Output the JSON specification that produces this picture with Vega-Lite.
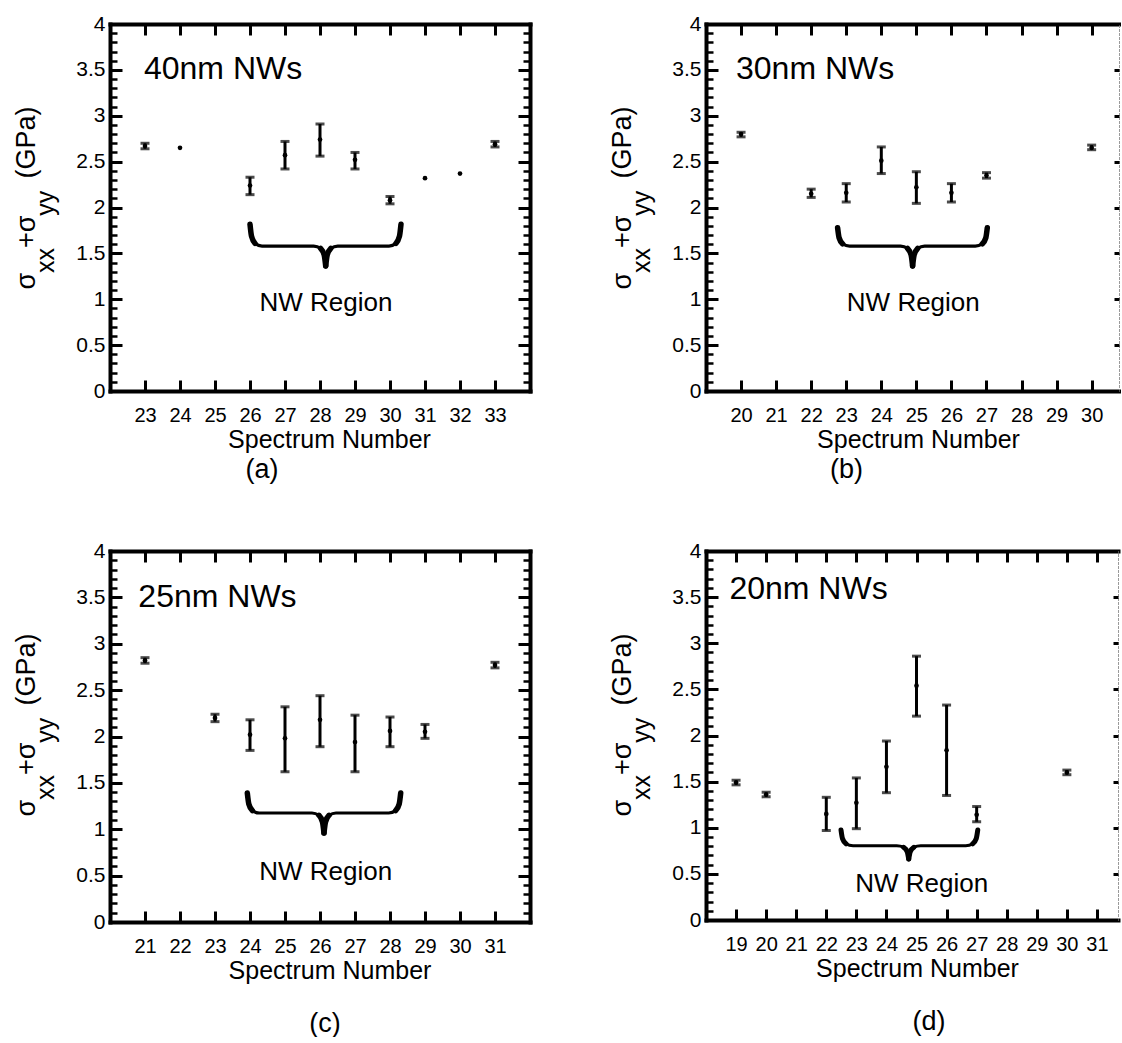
{
  "$schema": "https://vega.github.io/schema/vega-lite/v6.json",
  "background": "white",
  "padding": {"left": 12, "top": 13, "right": 0, "bottom": 0},
  "columns": 2,
  "spacing": {"row": 156, "column": 176},
  "bounds": "flush",
  "align": "all",
  "datasets": {
    "pa": [
      {"n": 23, "y": 2.67, "lo": 2.64, "hi": 2.70},
      {"n": 24, "y": 2.65, "lo": null, "hi": null},
      {"n": 26, "y": 2.24, "lo": 2.14, "hi": 2.33},
      {"n": 27, "y": 2.57, "lo": 2.42, "hi": 2.72},
      {"n": 28, "y": 2.74, "lo": 2.56, "hi": 2.91},
      {"n": 29, "y": 2.52, "lo": 2.42, "hi": 2.60},
      {"n": 30, "y": 2.08, "lo": 2.04, "hi": 2.12},
      {"n": 31, "y": 2.32, "lo": null, "hi": null},
      {"n": 32, "y": 2.37, "lo": null, "hi": null},
      {"n": 33, "y": 2.69, "lo": 2.66, "hi": 2.72}
    ],
    "pb": [
      {"n": 20, "y": 2.80, "lo": 2.77, "hi": 2.82},
      {"n": 22, "y": 2.15, "lo": 2.11, "hi": 2.20},
      {"n": 23, "y": 2.16, "lo": 2.06, "hi": 2.26},
      {"n": 24, "y": 2.51, "lo": 2.37, "hi": 2.66},
      {"n": 25, "y": 2.22, "lo": 2.045, "hi": 2.39},
      {"n": 26, "y": 2.16, "lo": 2.06, "hi": 2.26},
      {"n": 27, "y": 2.35, "lo": 2.32, "hi": 2.38},
      {"n": 30, "y": 2.65, "lo": 2.63, "hi": 2.68}
    ],
    "pc": [
      {"n": 21, "y": 2.82, "lo": 2.79, "hi": 2.85},
      {"n": 23, "y": 2.20, "lo": 2.16, "hi": 2.24},
      {"n": 24, "y": 2.02, "lo": 1.85, "hi": 2.18},
      {"n": 25, "y": 1.98, "lo": 1.62, "hi": 2.32},
      {"n": 26, "y": 2.18, "lo": 1.89, "hi": 2.44},
      {"n": 27, "y": 1.94, "lo": 1.62, "hi": 2.23},
      {"n": 28, "y": 2.06, "lo": 1.89, "hi": 2.21},
      {"n": 29, "y": 2.05, "lo": 1.98, "hi": 2.13},
      {"n": 31, "y": 2.77, "lo": 2.74, "hi": 2.80}
    ],
    "pd": [
      {"n": 19, "y": 1.49, "lo": 1.465, "hi": 1.515},
      {"n": 20, "y": 1.36, "lo": 1.335, "hi": 1.385},
      {"n": 22, "y": 1.15, "lo": 0.97, "hi": 1.33},
      {"n": 23, "y": 1.27, "lo": 0.99, "hi": 1.54},
      {"n": 24, "y": 1.66, "lo": 1.38, "hi": 1.94},
      {"n": 25, "y": 2.54, "lo": 2.21, "hi": 2.86},
      {"n": 26, "y": 1.84, "lo": 1.35, "hi": 2.33},
      {"n": 27, "y": 1.14, "lo": 1.065, "hi": 1.23},
      {"n": 30, "y": 1.60, "lo": 1.575, "hi": 1.625}
    ],
    "ba": [
      {"p": "L", "o": 1, "x": 26.000, "y": 1.817}, {"p": "L", "o": 2, "x": 26.043, "y": 1.687},
      {"p": "L", "o": 3, "x": 26.143, "y": 1.609}, {"p": "L", "o": 4, "x": 26.343, "y": 1.580},
      {"p": "L", "o": 5, "x": 27.820, "y": 1.580}, {"p": "L", "o": 6, "x": 28.020, "y": 1.554},
      {"p": "L", "o": 7, "x": 28.120, "y": 1.482}, {"p": "L", "o": 8, "x": 28.163, "y": 1.362},
      {"p": "R", "o": 1, "x": 28.163, "y": 1.362}, {"p": "R", "o": 2, "x": 28.206, "y": 1.482},
      {"p": "R", "o": 3, "x": 28.306, "y": 1.554}, {"p": "R", "o": 4, "x": 28.506, "y": 1.580},
      {"p": "R", "o": 5, "x": 29.971, "y": 1.580}, {"p": "R", "o": 6, "x": 30.171, "y": 1.609},
      {"p": "R", "o": 7, "x": 30.271, "y": 1.687}, {"p": "R", "o": 8, "x": 30.314, "y": 1.817}
    ],
    "bb": [
      {"p": "L", "o": 1, "x": 22.754, "y": 1.779}, {"p": "L", "o": 2, "x": 22.797, "y": 1.669},
      {"p": "L", "o": 3, "x": 22.897, "y": 1.604}, {"p": "L", "o": 4, "x": 23.096, "y": 1.580},
      {"p": "L", "o": 5, "x": 24.551, "y": 1.580}, {"p": "L", "o": 6, "x": 24.751, "y": 1.554},
      {"p": "L", "o": 7, "x": 24.851, "y": 1.481}, {"p": "L", "o": 8, "x": 24.893, "y": 1.362},
      {"p": "R", "o": 1, "x": 24.893, "y": 1.362}, {"p": "R", "o": 2, "x": 24.936, "y": 1.481},
      {"p": "R", "o": 3, "x": 25.035, "y": 1.554}, {"p": "R", "o": 4, "x": 25.235, "y": 1.580},
      {"p": "R", "o": 5, "x": 26.681, "y": 1.580}, {"p": "R", "o": 6, "x": 26.881, "y": 1.604},
      {"p": "R", "o": 7, "x": 26.981, "y": 1.669}, {"p": "R", "o": 8, "x": 27.023, "y": 1.779}
    ],
    "bc": [
      {"p": "L", "o": 1, "x": 23.923, "y": 1.391}, {"p": "L", "o": 2, "x": 23.966, "y": 1.272},
      {"p": "L", "o": 3, "x": 24.066, "y": 1.201}, {"p": "L", "o": 4, "x": 24.266, "y": 1.175},
      {"p": "L", "o": 5, "x": 25.771, "y": 1.175}, {"p": "L", "o": 6, "x": 25.971, "y": 1.150},
      {"p": "L", "o": 7, "x": 26.071, "y": 1.079}, {"p": "L", "o": 8, "x": 26.114, "y": 0.960},
      {"p": "R", "o": 1, "x": 26.114, "y": 0.960}, {"p": "R", "o": 2, "x": 26.157, "y": 1.079},
      {"p": "R", "o": 3, "x": 26.257, "y": 1.150}, {"p": "R", "o": 4, "x": 26.457, "y": 1.175},
      {"p": "R", "o": 5, "x": 27.963, "y": 1.175}, {"p": "R", "o": 6, "x": 28.163, "y": 1.201},
      {"p": "R", "o": 7, "x": 28.263, "y": 1.272}, {"p": "R", "o": 8, "x": 28.306, "y": 1.391}
    ],
    "bd": [
      {"p": "L", "o": 1, "x": 22.490, "y": 0.975}, {"p": "L", "o": 2, "x": 22.539, "y": 0.882},
      {"p": "L", "o": 3, "x": 22.656, "y": 0.826}, {"p": "L", "o": 4, "x": 22.889, "y": 0.805},
      {"p": "L", "o": 5, "x": 24.342, "y": 0.805}, {"p": "L", "o": 6, "x": 24.575, "y": 0.788},
      {"p": "L", "o": 7, "x": 24.691, "y": 0.740}, {"p": "L", "o": 8, "x": 24.741, "y": 0.661},
      {"p": "R", "o": 1, "x": 24.741, "y": 0.661}, {"p": "R", "o": 2, "x": 24.791, "y": 0.740},
      {"p": "R", "o": 3, "x": 24.907, "y": 0.788}, {"p": "R", "o": 4, "x": 25.140, "y": 0.805},
      {"p": "R", "o": 5, "x": 26.637, "y": 0.805}, {"p": "R", "o": 6, "x": 26.870, "y": 0.826},
      {"p": "R", "o": 7, "x": 26.986, "y": 0.882}, {"p": "R", "o": 8, "x": 27.036, "y": 0.975}
    ]
  },
  "concat": [
    {
      "width": 420, "height": 367,
      "title": {"text": "(a)", "orient": "bottom", "anchor": "middle", "frame": "group", "fontSize": 27, "fontWeight": "normal", "font": "Liberation Sans", "color": "black", "dx": -58, "offset": 5},
      "resolve": {"scale": {"x": "independent", "y": "independent"}, "axis": {"x": "independent", "y": "independent"}},
      "layer": [
        {"data": {"name": "pa"}, "mark": {"type": "rule", "color": "black", "strokeWidth": 3},
         "encoding": {
           "x": {"field": "n", "type": "quantitative", "scale": {"domain": [22, 34], "nice": false, "zero": false},
                 "axis": {"orient": "bottom", "values": [23,24,25,26,27,28,29,30,31,32,33], "format": "d", "domain": true, "domainWidth": 4, "domainColor": "black", "ticks": false, "tickSize": 0, "labels": true, "labelFontSize": 20, "labelPadding": 14, "title": "Spectrum Number", "titleFontSize": 25, "titleX": 219, "titleY": 36, "titleAlign": "center", "titleBaseline": "top"}},
           "y": {"field": "lo", "type": "quantitative", "scale": {"domain": [0, 4], "nice": false, "zero": false},
                 "axis": {"orient": "left", "values": [0,0.5,1,1.5,2,2.5,3,3.5,4], "format": "~g", "domain": true, "domainWidth": 4, "domainColor": "black", "ticks": false, "tickSize": 0, "labelFontSize": 21, "labelPadding": 5, "title": "(GPa)", "titleFontSize": 27, "titleAngle": 270, "titleAlign": "left", "titleBaseline": "alphabetic", "titleX": -76, "titleY": 154}},
           "y2": {"field": "hi"}}},
        {"data": {"name": "pa"}, "mark": {"type": "tick", "orient": "horizontal", "color": "black", "size": 9, "thickness": 3},
         "encoding": {
           "x": {"field": "n", "type": "quantitative", "scale": {"domain": [22, 34], "nice": false, "zero": false},
                 "axis": {"orient": "bottom", "offset": -11, "values": [23,24,25,26,27,28,29,30,31,32,33], "domain": false, "ticks": true, "tickSize": 11, "tickWidth": 3, "tickColor": "black", "labels": false, "title": null}},
           "y": {"field": "lo", "type": "quantitative", "scale": {"domain": [0, 4], "nice": false, "zero": false},
                 "axis": {"orient": "left", "offset": -12, "values": [0,0.5,1,1.5,2,2.5,3,3.5,4], "domain": false, "ticks": true, "tickSize": 12, "tickWidth": 3, "tickColor": "black", "labels": false, "title": "σ", "titleFontSize": 27, "titleAngle": 270, "titleAlign": "left", "titleBaseline": "alphabetic", "titleX": -88, "titleY": 265}}}},
        {"data": {"name": "pa"}, "mark": {"type": "tick", "orient": "horizontal", "color": "black", "size": 9, "thickness": 3},
         "encoding": {
           "x": {"field": "n", "type": "quantitative", "scale": {"domain": [22, 34], "nice": false, "zero": false},
                 "axis": {"orient": "top", "domain": true, "domainWidth": 4, "domainColor": "black", "ticks": false, "tickSize": 0, "labels": false, "title": null}},
           "y": {"field": "hi", "type": "quantitative", "scale": {"domain": [0, 4], "nice": false, "zero": false},
                 "axis": {"orient": "left", "offset": -7, "values": [0,0.1,0.2,0.3,0.4,0.5,0.6,0.7,0.8,0.9,1,1.1,1.2,1.3,1.4,1.5,1.6,1.7,1.8,1.9,2,2.1,2.2,2.3,2.4,2.5,2.6,2.7,2.8,2.9,3,3.1,3.2,3.3,3.4,3.5,3.6,3.7,3.8,3.9,4], "domain": false, "ticks": true, "tickSize": 7, "tickWidth": 2.5, "tickColor": "black", "labels": false, "title": "xx", "titleFontSize": 25, "titleAngle": 270, "titleAlign": "left", "titleBaseline": "alphabetic", "titleX": -64, "titleY": 248.5}}}},
        {"data": {"name": "pa"}, "mark": {"type": "circle", "color": "black", "opacity": 1, "size": 22},
         "encoding": {
           "x": {"field": "n", "type": "quantitative", "scale": {"domain": [22, 34], "nice": false, "zero": false},
                 "axis": {"orient": "top", "offset": -11, "values": [23,24,25,26,27,28,29,30,31,32,33], "domain": false, "ticks": true, "tickSize": 11, "tickWidth": 3, "tickColor": "black", "labels": false, "title": null}},
           "y": {"field": "y", "type": "quantitative", "scale": {"domain": [0, 4], "nice": false, "zero": false},
                 "axis": {"orient": "right", "domain": true, "domainWidth": 4, "domainColor": "black", "ticks": false, "tickSize": 0, "labels": false, "title": "+σ", "titleFontSize": 27, "titleAngle": 270, "titleAlign": "left", "titleBaseline": "alphabetic", "titleX": -496, "titleY": 223.5}}}},
        {"data": {"values": [{"x": 22.97, "y": 3.40, "t": "40nm NWs"}]}, "mark": {"type": "text", "align": "left", "baseline": "alphabetic", "fontSize": 32, "font": "Liberation Sans", "color": "black"},
         "encoding": {
           "x": {"field": "x", "type": "quantitative", "scale": {"domain": [22, 34], "nice": false, "zero": false}, "axis": null},
           "y": {"field": "y", "type": "quantitative", "scale": {"domain": [0, 4], "nice": false, "zero": false},
                 "axis": {"orient": "right", "offset": -12, "values": [0,0.5,1,1.5,2,2.5,3,3.5,4], "domain": false, "ticks": true, "tickSize": 12, "tickWidth": 3, "tickColor": "black", "labels": false, "title": "yy", "titleFontSize": 25, "titleAngle": 270, "titleAlign": "left", "titleBaseline": "alphabetic", "titleX": -465, "titleY": 191.3}},
           "text": {"field": "t"}}},
        {"data": {"values": [{"x": 28.17, "y": 0.872, "t": "NW Region"}]}, "mark": {"type": "text", "align": "center", "baseline": "alphabetic", "fontSize": 26, "font": "Liberation Sans", "color": "black"},
         "encoding": {
           "x": {"field": "x", "type": "quantitative", "scale": {"domain": [22, 34], "nice": false, "zero": false}, "axis": null},
           "y": {"field": "y", "type": "quantitative", "scale": {"domain": [0, 4], "nice": false, "zero": false},
                 "axis": {"orient": "right", "offset": -7, "values": [0,0.1,0.2,0.3,0.4,0.5,0.6,0.7,0.8,0.9,1,1.1,1.2,1.3,1.4,1.5,1.6,1.7,1.8,1.9,2,2.1,2.2,2.3,2.4,2.5,2.6,2.7,2.8,2.9,3,3.1,3.2,3.3,3.4,3.5,3.6,3.7,3.8,3.9,4], "domain": false, "ticks": true, "tickSize": 7, "tickWidth": 2.5, "tickColor": "black", "labels": false, "title": null}},
           "text": {"field": "t"}}},
        {"data": {"name": "ba"}, "mark": {"type": "line", "color": "black", "strokeWidth": 3.2, "interpolate": "monotone"},
         "encoding": {
           "x": {"field": "x", "type": "quantitative", "scale": {"domain": [22, 34], "nice": false, "zero": false}, "axis": null},
           "y": {"field": "y", "type": "quantitative", "scale": {"domain": [0, 4], "nice": false, "zero": false}, "axis": null},
           "detail": {"field": "p"}, "order": {"field": "o"}}},
        {"data": {"name": "ba"}, "transform": [{"filter": "datum.o <= 3"}], "mark": {"type": "line", "color": "black", "strokeWidth": 5.5, "strokeCap": "round", "interpolate": "monotone"},
         "encoding": {
           "x": {"field": "x", "type": "quantitative", "scale": {"domain": [22, 34], "nice": false, "zero": false}, "axis": null},
           "y": {"field": "y", "type": "quantitative", "scale": {"domain": [0, 4], "nice": false, "zero": false}, "axis": null},
           "detail": {"field": "p"}, "order": {"field": "o"}}},
        {"data": {"name": "ba"}, "transform": [{"filter": "datum.o >= 6"}], "mark": {"type": "line", "color": "black", "strokeWidth": 5.5, "strokeCap": "round", "interpolate": "monotone"},
         "encoding": {
           "x": {"field": "x", "type": "quantitative", "scale": {"domain": [22, 34], "nice": false, "zero": false}, "axis": null},
           "y": {"field": "y", "type": "quantitative", "scale": {"domain": [0, 4], "nice": false, "zero": false}, "axis": null},
           "detail": {"field": "p"}, "order": {"field": "o"}}}
      ]
    },
    {
      "width": 413, "height": 367,
      "title": {"text": "(b)", "orient": "bottom", "anchor": "middle", "frame": "group", "fontSize": 27, "fontWeight": "normal", "font": "Liberation Sans", "color": "black", "dx": -66, "offset": 5},
      "resolve": {"scale": {"x": "independent", "y": "independent"}, "axis": {"x": "independent", "y": "independent"}},
      "layer": [
        {"data": {"name": "pb"}, "mark": {"type": "rule", "color": "black", "strokeWidth": 3},
         "encoding": {
           "x": {"field": "n", "type": "quantitative", "scale": {"domain": [19, 30.78], "nice": false, "zero": false},
                 "axis": {"orient": "bottom", "values": [20,21,22,23,24,25,26,27,28,29,30], "format": "d", "domain": true, "domainWidth": 4, "domainColor": "black", "ticks": false, "tickSize": 0, "labels": true, "labelFontSize": 20, "labelPadding": 14, "title": "Spectrum Number", "titleFontSize": 25, "titleX": 212, "titleY": 36, "titleAlign": "center", "titleBaseline": "top"}},
           "y": {"field": "lo", "type": "quantitative", "scale": {"domain": [0, 4], "nice": false, "zero": false},
                 "axis": {"orient": "left", "values": [0,0.5,1,1.5,2,2.5,3,3.5,4], "format": "~g", "domain": true, "domainWidth": 4, "domainColor": "black", "ticks": false, "tickSize": 0, "labelFontSize": 21, "labelPadding": 5, "title": "(GPa)", "titleFontSize": 27, "titleAngle": 270, "titleAlign": "left", "titleBaseline": "alphabetic", "titleX": -76, "titleY": 154}},
           "y2": {"field": "hi"}}},
        {"data": {"name": "pb"}, "mark": {"type": "tick", "orient": "horizontal", "color": "black", "size": 9, "thickness": 3},
         "encoding": {
           "x": {"field": "n", "type": "quantitative", "scale": {"domain": [19, 30.78], "nice": false, "zero": false},
                 "axis": {"orient": "bottom", "offset": -11, "values": [20,21,22,23,24,25,26,27,28,29,30], "domain": false, "ticks": true, "tickSize": 11, "tickWidth": 3, "tickColor": "black", "labels": false, "title": null}},
           "y": {"field": "lo", "type": "quantitative", "scale": {"domain": [0, 4], "nice": false, "zero": false},
                 "axis": {"orient": "left", "offset": -12, "values": [0,0.5,1,1.5,2,2.5,3,3.5,4], "domain": false, "ticks": true, "tickSize": 12, "tickWidth": 3, "tickColor": "black", "labels": false, "title": "σ", "titleFontSize": 27, "titleAngle": 270, "titleAlign": "left", "titleBaseline": "alphabetic", "titleX": -88, "titleY": 265}}}},
        {"data": {"name": "pb"}, "mark": {"type": "tick", "orient": "horizontal", "color": "black", "size": 9, "thickness": 3},
         "encoding": {
           "x": {"field": "n", "type": "quantitative", "scale": {"domain": [19, 30.78], "nice": false, "zero": false},
                 "axis": {"orient": "top", "domain": true, "domainWidth": 4, "domainColor": "black", "ticks": false, "tickSize": 0, "labels": false, "title": null}},
           "y": {"field": "hi", "type": "quantitative", "scale": {"domain": [0, 4], "nice": false, "zero": false},
                 "axis": {"orient": "left", "offset": -7, "values": [0,0.1,0.2,0.3,0.4,0.5,0.6,0.7,0.8,0.9,1,1.1,1.2,1.3,1.4,1.5,1.6,1.7,1.8,1.9,2,2.1,2.2,2.3,2.4,2.5,2.6,2.7,2.8,2.9,3,3.1,3.2,3.3,3.4,3.5,3.6,3.7,3.8,3.9,4], "domain": false, "ticks": true, "tickSize": 7, "tickWidth": 2.5, "tickColor": "black", "labels": false, "title": "xx", "titleFontSize": 25, "titleAngle": 270, "titleAlign": "left", "titleBaseline": "alphabetic", "titleX": -64, "titleY": 248.5}}}},
        {"data": {"name": "pb"}, "mark": {"type": "circle", "color": "black", "opacity": 1, "size": 22},
         "encoding": {
           "x": {"field": "n", "type": "quantitative", "scale": {"domain": [19, 30.78], "nice": false, "zero": false},
                 "axis": {"orient": "top", "offset": -11, "values": [20,21,22,23,24,25,26,27,28,29,30], "domain": false, "ticks": true, "tickSize": 11, "tickWidth": 3, "tickColor": "black", "labels": false, "title": null}},
           "y": {"field": "y", "type": "quantitative", "scale": {"domain": [0, 4], "nice": false, "zero": false},
                 "axis": {"orient": "right", "domain": true, "domainWidth": 1, "domainColor": "#9a9a9a", "domainDash": [2, 2], "ticks": false, "tickSize": 0, "labels": false, "title": "+σ", "titleFontSize": 27, "titleAngle": 270, "titleAlign": "left", "titleBaseline": "alphabetic", "titleX": -489, "titleY": 223.5}}}},
        {"data": {"values": [{"x": 19.856, "y": 3.40, "t": "30nm NWs"}]}, "mark": {"type": "text", "align": "left", "baseline": "alphabetic", "fontSize": 32, "font": "Liberation Sans", "color": "black"},
         "encoding": {
           "x": {"field": "x", "type": "quantitative", "scale": {"domain": [19, 30.78], "nice": false, "zero": false}, "axis": null},
           "y": {"field": "y", "type": "quantitative", "scale": {"domain": [0, 4], "nice": false, "zero": false},
                 "axis": {"orient": "right", "offset": -5, "values": [0,0.5,1,1.5,2,2.5,3,3.5,4], "domain": false, "ticks": true, "tickSize": 5, "tickWidth": 3, "tickColor": "black", "labels": false, "title": "yy", "titleFontSize": 25, "titleAngle": 270, "titleAlign": "left", "titleBaseline": "alphabetic", "titleX": -465, "titleY": 191.3}},
           "text": {"field": "t"}}},
        {"data": {"values": [{"x": 24.913, "y": 0.871, "t": "NW Region"}]}, "mark": {"type": "text", "align": "center", "baseline": "alphabetic", "fontSize": 26, "font": "Liberation Sans", "color": "black"},
         "encoding": {
           "x": {"field": "x", "type": "quantitative", "scale": {"domain": [19, 30.78], "nice": false, "zero": false}, "axis": null},
           "y": {"field": "y", "type": "quantitative", "scale": {"domain": [0, 4], "nice": false, "zero": false}, "axis": null},
           "text": {"field": "t"}}},
        {"data": {"name": "bb"}, "mark": {"type": "line", "color": "black", "strokeWidth": 3.2, "interpolate": "monotone"},
         "encoding": {
           "x": {"field": "x", "type": "quantitative", "scale": {"domain": [19, 30.78], "nice": false, "zero": false}, "axis": null},
           "y": {"field": "y", "type": "quantitative", "scale": {"domain": [0, 4], "nice": false, "zero": false}, "axis": null},
           "detail": {"field": "p"}, "order": {"field": "o"}}},
        {"data": {"name": "bb"}, "transform": [{"filter": "datum.o <= 3"}], "mark": {"type": "line", "color": "black", "strokeWidth": 5.5, "strokeCap": "round", "interpolate": "monotone"},
         "encoding": {
           "x": {"field": "x", "type": "quantitative", "scale": {"domain": [19, 30.78], "nice": false, "zero": false}, "axis": null},
           "y": {"field": "y", "type": "quantitative", "scale": {"domain": [0, 4], "nice": false, "zero": false}, "axis": null},
           "detail": {"field": "p"}, "order": {"field": "o"}}},
        {"data": {"name": "bb"}, "transform": [{"filter": "datum.o >= 6"}], "mark": {"type": "line", "color": "black", "strokeWidth": 5.5, "strokeCap": "round", "interpolate": "monotone"},
         "encoding": {
           "x": {"field": "x", "type": "quantitative", "scale": {"domain": [19, 30.78], "nice": false, "zero": false}, "axis": null},
           "y": {"field": "y", "type": "quantitative", "scale": {"domain": [0, 4], "nice": false, "zero": false}, "axis": null},
           "detail": {"field": "p"}, "order": {"field": "o"}}}
      ]
    },
    {
      "width": 420, "height": 371,
      "title": {"text": "(c)", "orient": "bottom", "anchor": "middle", "frame": "group", "fontSize": 27, "fontWeight": "normal", "font": "Liberation Sans", "color": "black", "dx": 5, "offset": 28},
      "resolve": {"scale": {"x": "independent", "y": "independent"}, "axis": {"x": "independent", "y": "independent"}},
      "layer": [
        {"data": {"name": "pc"}, "mark": {"type": "rule", "color": "black", "strokeWidth": 3},
         "encoding": {
           "x": {"field": "n", "type": "quantitative", "scale": {"domain": [20, 32], "nice": false, "zero": false},
                 "axis": {"orient": "bottom", "values": [21,22,23,24,25,26,27,28,29,30,31], "format": "d", "domain": true, "domainWidth": 4, "domainColor": "black", "ticks": false, "tickSize": 0, "labels": true, "labelFontSize": 20, "labelPadding": 14, "title": "Spectrum Number", "titleFontSize": 25, "titleX": 219.5, "titleY": 36, "titleAlign": "center", "titleBaseline": "top"}},
           "y": {"field": "lo", "type": "quantitative", "scale": {"domain": [0, 4], "nice": false, "zero": false},
                 "axis": {"orient": "left", "values": [0,0.5,1,1.5,2,2.5,3,3.5,4], "format": "~g", "domain": true, "domainWidth": 4, "domainColor": "black", "ticks": false, "tickSize": 0, "labelFontSize": 21, "labelPadding": 5, "title": "(GPa)", "titleFontSize": 27, "titleAngle": 270, "titleAlign": "left", "titleBaseline": "alphabetic", "titleX": -76, "titleY": 154}},
           "y2": {"field": "hi"}}},
        {"data": {"name": "pc"}, "mark": {"type": "tick", "orient": "horizontal", "color": "black", "size": 9, "thickness": 3},
         "encoding": {
           "x": {"field": "n", "type": "quantitative", "scale": {"domain": [20, 32], "nice": false, "zero": false},
                 "axis": {"orient": "bottom", "offset": -11, "values": [21,22,23,24,25,26,27,28,29,30,31], "domain": false, "ticks": true, "tickSize": 11, "tickWidth": 3, "tickColor": "black", "labels": false, "title": null}},
           "y": {"field": "lo", "type": "quantitative", "scale": {"domain": [0, 4], "nice": false, "zero": false},
                 "axis": {"orient": "left", "offset": -12, "values": [0,0.5,1,1.5,2,2.5,3,3.5,4], "domain": false, "ticks": true, "tickSize": 12, "tickWidth": 3, "tickColor": "black", "labels": false, "title": "σ", "titleFontSize": 27, "titleAngle": 270, "titleAlign": "left", "titleBaseline": "alphabetic", "titleX": -88, "titleY": 265}}}},
        {"data": {"name": "pc"}, "mark": {"type": "tick", "orient": "horizontal", "color": "black", "size": 9, "thickness": 3},
         "encoding": {
           "x": {"field": "n", "type": "quantitative", "scale": {"domain": [20, 32], "nice": false, "zero": false},
                 "axis": {"orient": "top", "domain": true, "domainWidth": 4, "domainColor": "black", "ticks": false, "tickSize": 0, "labels": false, "title": null}},
           "y": {"field": "hi", "type": "quantitative", "scale": {"domain": [0, 4], "nice": false, "zero": false},
                 "axis": {"orient": "left", "offset": -7, "values": [0,0.1,0.2,0.3,0.4,0.5,0.6,0.7,0.8,0.9,1,1.1,1.2,1.3,1.4,1.5,1.6,1.7,1.8,1.9,2,2.1,2.2,2.3,2.4,2.5,2.6,2.7,2.8,2.9,3,3.1,3.2,3.3,3.4,3.5,3.6,3.7,3.8,3.9,4], "domain": false, "ticks": true, "tickSize": 7, "tickWidth": 2.5, "tickColor": "black", "labels": false, "title": "xx", "titleFontSize": 25, "titleAngle": 270, "titleAlign": "left", "titleBaseline": "alphabetic", "titleX": -64, "titleY": 248.5}}}},
        {"data": {"name": "pc"}, "mark": {"type": "circle", "color": "black", "opacity": 1, "size": 22},
         "encoding": {
           "x": {"field": "n", "type": "quantitative", "scale": {"domain": [20, 32], "nice": false, "zero": false},
                 "axis": {"orient": "top", "offset": -11, "values": [21,22,23,24,25,26,27,28,29,30,31], "domain": false, "ticks": true, "tickSize": 11, "tickWidth": 3, "tickColor": "black", "labels": false, "title": null}},
           "y": {"field": "y", "type": "quantitative", "scale": {"domain": [0, 4], "nice": false, "zero": false},
                 "axis": {"orient": "right", "domain": true, "domainWidth": 4, "domainColor": "black", "ticks": false, "tickSize": 0, "labels": false, "title": "+σ", "titleFontSize": 27, "titleAngle": 270, "titleAlign": "left", "titleBaseline": "alphabetic", "titleX": -496, "titleY": 223.5}}}},
        {"data": {"values": [{"x": 20.81, "y": 3.40, "t": "25nm NWs"}]}, "mark": {"type": "text", "align": "left", "baseline": "alphabetic", "fontSize": 32, "font": "Liberation Sans", "color": "black"},
         "encoding": {
           "x": {"field": "x", "type": "quantitative", "scale": {"domain": [20, 32], "nice": false, "zero": false}, "axis": null},
           "y": {"field": "y", "type": "quantitative", "scale": {"domain": [0, 4], "nice": false, "zero": false},
                 "axis": {"orient": "right", "offset": -12, "values": [0,0.5,1,1.5,2,2.5,3,3.5,4], "domain": false, "ticks": true, "tickSize": 12, "tickWidth": 3, "tickColor": "black", "labels": false, "title": "yy", "titleFontSize": 25, "titleAngle": 270, "titleAlign": "left", "titleBaseline": "alphabetic", "titleX": -465, "titleY": 191.3}},
           "text": {"field": "t"}}},
        {"data": {"values": [{"x": 26.163, "y": 0.457, "t": "NW Region"}]}, "mark": {"type": "text", "align": "center", "baseline": "alphabetic", "fontSize": 26, "font": "Liberation Sans", "color": "black"},
         "encoding": {
           "x": {"field": "x", "type": "quantitative", "scale": {"domain": [20, 32], "nice": false, "zero": false}, "axis": null},
           "y": {"field": "y", "type": "quantitative", "scale": {"domain": [0, 4], "nice": false, "zero": false},
                 "axis": {"orient": "right", "offset": -7, "values": [0,0.1,0.2,0.3,0.4,0.5,0.6,0.7,0.8,0.9,1,1.1,1.2,1.3,1.4,1.5,1.6,1.7,1.8,1.9,2,2.1,2.2,2.3,2.4,2.5,2.6,2.7,2.8,2.9,3,3.1,3.2,3.3,3.4,3.5,3.6,3.7,3.8,3.9,4], "domain": false, "ticks": true, "tickSize": 7, "tickWidth": 2.5, "tickColor": "black", "labels": false, "title": null}},
           "text": {"field": "t"}}},
        {"data": {"name": "bc"}, "mark": {"type": "line", "color": "black", "strokeWidth": 3.2, "interpolate": "monotone"},
         "encoding": {
           "x": {"field": "x", "type": "quantitative", "scale": {"domain": [20, 32], "nice": false, "zero": false}, "axis": null},
           "y": {"field": "y", "type": "quantitative", "scale": {"domain": [0, 4], "nice": false, "zero": false}, "axis": null},
           "detail": {"field": "p"}, "order": {"field": "o"}}},
        {"data": {"name": "bc"}, "transform": [{"filter": "datum.o <= 3"}], "mark": {"type": "line", "color": "black", "strokeWidth": 5.5, "strokeCap": "round", "interpolate": "monotone"},
         "encoding": {
           "x": {"field": "x", "type": "quantitative", "scale": {"domain": [20, 32], "nice": false, "zero": false}, "axis": null},
           "y": {"field": "y", "type": "quantitative", "scale": {"domain": [0, 4], "nice": false, "zero": false}, "axis": null},
           "detail": {"field": "p"}, "order": {"field": "o"}}},
        {"data": {"name": "bc"}, "transform": [{"filter": "datum.o >= 6"}], "mark": {"type": "line", "color": "black", "strokeWidth": 5.5, "strokeCap": "round", "interpolate": "monotone"},
         "encoding": {
           "x": {"field": "x", "type": "quantitative", "scale": {"domain": [20, 32], "nice": false, "zero": false}, "axis": null},
           "y": {"field": "y", "type": "quantitative", "scale": {"domain": [0, 4], "nice": false, "zero": false}, "axis": null},
           "detail": {"field": "p"}, "order": {"field": "o"}}}
      ]
    },
    {
      "width": 412, "height": 369,
      "title": {"text": "(d)", "orient": "bottom", "anchor": "middle", "frame": "group", "fontSize": 27, "fontWeight": "normal", "font": "Liberation Sans", "color": "black", "dx": 17, "offset": 28},
      "resolve": {"scale": {"x": "independent", "y": "independent"}, "axis": {"x": "independent", "y": "independent"}},
      "layer": [
        {"data": {"name": "pd"}, "mark": {"type": "rule", "color": "black", "strokeWidth": 3},
         "encoding": {
           "x": {"field": "n", "type": "quantitative", "scale": {"domain": [18, 31.7], "nice": false, "zero": false},
                 "axis": {"orient": "bottom", "values": [19,20,21,22,23,24,25,26,27,28,29,30,31], "format": "d", "domain": true, "domainWidth": 4, "domainColor": "black", "ticks": false, "tickSize": 0, "labels": true, "labelFontSize": 20, "labelPadding": 14, "title": "Spectrum Number", "titleFontSize": 25, "titleX": 211, "titleY": 36, "titleAlign": "center", "titleBaseline": "top"}},
           "y": {"field": "lo", "type": "quantitative", "scale": {"domain": [0, 4], "nice": false, "zero": false},
                 "axis": {"orient": "left", "values": [0,0.5,1,1.5,2,2.5,3,3.5,4], "format": "~g", "domain": true, "domainWidth": 4, "domainColor": "black", "ticks": false, "tickSize": 0, "labelFontSize": 21, "labelPadding": 5, "title": "(GPa)", "titleFontSize": 27, "titleAngle": 270, "titleAlign": "left", "titleBaseline": "alphabetic", "titleX": -76, "titleY": 154}},
           "y2": {"field": "hi"}}},
        {"data": {"name": "pd"}, "mark": {"type": "tick", "orient": "horizontal", "color": "black", "size": 9, "thickness": 3},
         "encoding": {
           "x": {"field": "n", "type": "quantitative", "scale": {"domain": [18, 31.7], "nice": false, "zero": false},
                 "axis": {"orient": "bottom", "offset": -11, "values": [19,20,21,22,23,24,25,26,27,28,29,30,31], "domain": false, "ticks": true, "tickSize": 11, "tickWidth": 3, "tickColor": "black", "labels": false, "title": null}},
           "y": {"field": "lo", "type": "quantitative", "scale": {"domain": [0, 4], "nice": false, "zero": false},
                 "axis": {"orient": "left", "offset": -12, "values": [0,0.5,1,1.5,2,2.5,3,3.5,4], "domain": false, "ticks": true, "tickSize": 12, "tickWidth": 3, "tickColor": "black", "labels": false, "title": "σ", "titleFontSize": 27, "titleAngle": 270, "titleAlign": "left", "titleBaseline": "alphabetic", "titleX": -88, "titleY": 265}}}},
        {"data": {"name": "pd"}, "mark": {"type": "tick", "orient": "horizontal", "color": "black", "size": 9, "thickness": 3},
         "encoding": {
           "x": {"field": "n", "type": "quantitative", "scale": {"domain": [18, 31.7], "nice": false, "zero": false},
                 "axis": {"orient": "top", "domain": true, "domainWidth": 4, "domainColor": "black", "ticks": false, "tickSize": 0, "labels": false, "title": null}},
           "y": {"field": "hi", "type": "quantitative", "scale": {"domain": [0, 4], "nice": false, "zero": false},
                 "axis": {"orient": "left", "offset": -7, "values": [0,0.1,0.2,0.3,0.4,0.5,0.6,0.7,0.8,0.9,1,1.1,1.2,1.3,1.4,1.5,1.6,1.7,1.8,1.9,2,2.1,2.2,2.3,2.4,2.5,2.6,2.7,2.8,2.9,3,3.1,3.2,3.3,3.4,3.5,3.6,3.7,3.8,3.9,4], "domain": false, "ticks": true, "tickSize": 7, "tickWidth": 2.5, "tickColor": "black", "labels": false, "title": "xx", "titleFontSize": 25, "titleAngle": 270, "titleAlign": "left", "titleBaseline": "alphabetic", "titleX": -64, "titleY": 248.5}}}},
        {"data": {"name": "pd"}, "mark": {"type": "circle", "color": "black", "opacity": 1, "size": 22},
         "encoding": {
           "x": {"field": "n", "type": "quantitative", "scale": {"domain": [18, 31.7], "nice": false, "zero": false},
                 "axis": {"orient": "top", "offset": -11, "values": [19,20,21,22,23,24,25,26,27,28,29,30,31], "domain": false, "ticks": true, "tickSize": 11, "tickWidth": 3, "tickColor": "black", "labels": false, "title": null}},
           "y": {"field": "y", "type": "quantitative", "scale": {"domain": [0, 4], "nice": false, "zero": false},
                 "axis": {"orient": "right", "domain": true, "domainWidth": 1, "domainColor": "#9a9a9a", "domainDash": [2, 2], "ticks": false, "tickSize": 0, "labels": false, "title": "+σ", "titleFontSize": 27, "titleAngle": 270, "titleAlign": "left", "titleBaseline": "alphabetic", "titleX": -488, "titleY": 223.5}}}},
        {"data": {"values": [{"x": 18.778, "y": 3.478, "t": "20nm NWs"}]}, "mark": {"type": "text", "align": "left", "baseline": "alphabetic", "fontSize": 32, "font": "Liberation Sans", "color": "black"},
         "encoding": {
           "x": {"field": "x", "type": "quantitative", "scale": {"domain": [18, 31.7], "nice": false, "zero": false}, "axis": null},
           "y": {"field": "y", "type": "quantitative", "scale": {"domain": [0, 4], "nice": false, "zero": false},
                 "axis": {"orient": "right", "offset": -5, "values": [0,0.5,1,1.5,2,2.5,3,3.5,4], "domain": false, "ticks": true, "tickSize": 5, "tickWidth": 3, "tickColor": "black", "labels": false, "title": "yy", "titleFontSize": 25, "titleAngle": 270, "titleAlign": "left", "titleBaseline": "alphabetic", "titleX": -464, "titleY": 191.3}},
           "text": {"field": "t"}}},
        {"data": {"values": [{"x": 25.173, "y": 0.300, "t": "NW Region"}]}, "mark": {"type": "text", "align": "center", "baseline": "alphabetic", "fontSize": 26, "font": "Liberation Sans", "color": "black"},
         "encoding": {
           "x": {"field": "x", "type": "quantitative", "scale": {"domain": [18, 31.7], "nice": false, "zero": false}, "axis": null},
           "y": {"field": "y", "type": "quantitative", "scale": {"domain": [0, 4], "nice": false, "zero": false}, "axis": null},
           "text": {"field": "t"}}},
        {"data": {"name": "bd"}, "mark": {"type": "line", "color": "black", "strokeWidth": 3.2, "interpolate": "monotone"},
         "encoding": {
           "x": {"field": "x", "type": "quantitative", "scale": {"domain": [18, 31.7], "nice": false, "zero": false}, "axis": null},
           "y": {"field": "y", "type": "quantitative", "scale": {"domain": [0, 4], "nice": false, "zero": false}, "axis": null},
           "detail": {"field": "p"}, "order": {"field": "o"}}},
        {"data": {"name": "bd"}, "transform": [{"filter": "datum.o <= 3"}], "mark": {"type": "line", "color": "black", "strokeWidth": 5, "strokeCap": "round", "interpolate": "monotone"},
         "encoding": {
           "x": {"field": "x", "type": "quantitative", "scale": {"domain": [18, 31.7], "nice": false, "zero": false}, "axis": null},
           "y": {"field": "y", "type": "quantitative", "scale": {"domain": [0, 4], "nice": false, "zero": false}, "axis": null},
           "detail": {"field": "p"}, "order": {"field": "o"}}},
        {"data": {"name": "bd"}, "transform": [{"filter": "datum.o >= 6"}], "mark": {"type": "line", "color": "black", "strokeWidth": 5, "strokeCap": "round", "interpolate": "monotone"},
         "encoding": {
           "x": {"field": "x", "type": "quantitative", "scale": {"domain": [18, 31.7], "nice": false, "zero": false}, "axis": null},
           "y": {"field": "y", "type": "quantitative", "scale": {"domain": [0, 4], "nice": false, "zero": false}, "axis": null},
           "detail": {"field": "p"}, "order": {"field": "o"}}}
      ]
    }
  ],
  "config": {
    "view": {"stroke": null},
    "font": "Liberation Sans",
    "axis": {"grid": false, "labelFont": "Liberation Sans", "labelColor": "black", "titleFont": "Liberation Sans", "titleFontWeight": "normal", "titleColor": "black", "domainColor": "black", "tickColor": "black", "domainCap": "square", "labelOverlap": false, "labelFlush": false}
  }
}
